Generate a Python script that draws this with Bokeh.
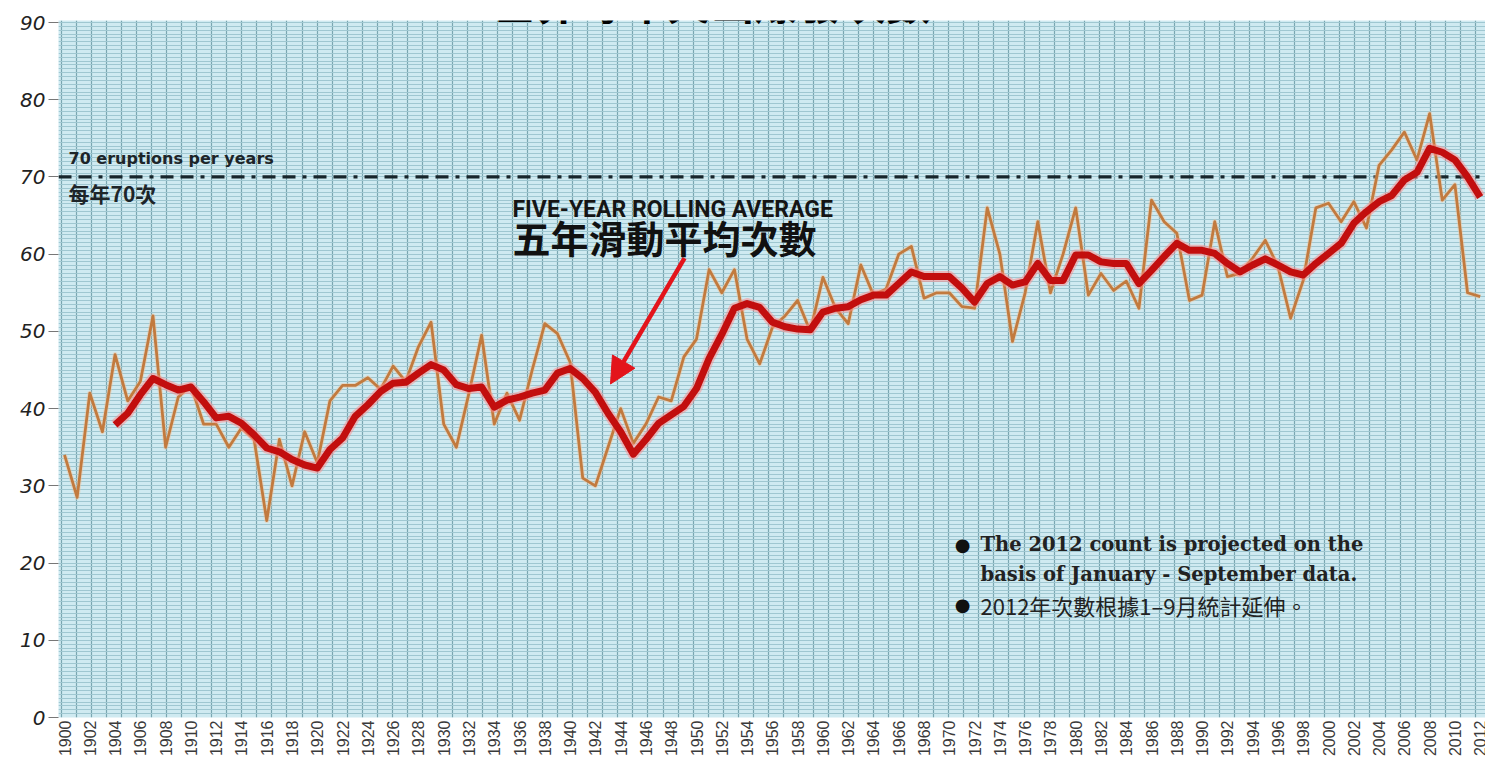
from math import pi
from bokeh.plotting import figure
from bokeh.models import (Range1d, FixedTicker, SingleIntervalTicker, Span, Label,
                          Arrow, NormalHead)
from bokeh.embed import file_html
from bokeh.resources import INLINE

# ---------------- data ----------------
years = list(range(1900, 2013))
eruptions = [
    34, 28.5, 42, 37, 47, 41, 43.5, 52, 35, 41.5,          # 1900-1909
    43, 38, 38, 35, 37.5, 36, 25.5, 36, 30, 37,            # 1910-1919
    33, 41, 43, 43, 44, 42.5, 45.5, 43.5, 48, 51.2,        # 1920-1929
    38, 35, 42, 49.5, 38, 42, 38.5, 45, 51, 49.7,          # 1930-1939
    46, 31, 30, 35, 40, 35.5, 38, 41.5, 41, 46.7,          # 1940-1949
    49, 58, 55, 58, 49, 45.8, 50.5, 52, 54, 50,            # 1950-1959
    57, 53, 51, 58.6, 54.7, 55.5, 60, 61, 54.3, 55,        # 1960-1969
    55, 53.2, 53, 66, 60, 48.7, 55, 64.2, 55, 60,          # 1970-1979
    66, 54.7, 57.5, 55.3, 56.5, 53, 67, 64.2, 62.7, 54,    # 1980-1989
    54.7, 64.2, 57.1, 57.5, 59.5, 61.8, 58.4, 51.7, 56.6, 66,  # 1990-1999
    66.6, 64.2, 66.8, 63.4, 71.5, 73.5, 75.8, 72.2, 78.2, 67,  # 2000-2009
    69, 55, 54.5,                                          # 2010-2012
]
avg_years = list(range(1904, 2013))
rolling_avg = [
    37.9, 39.4, 41.8, 43.9, 43.1, 42.4,                    # 1904-1909
    42.8, 40.9, 38.8, 39.0, 38.1, 36.6, 34.9, 34.4, 33.4, 32.7,  # 1910-1919
    32.3, 34.7, 36.2, 39.0, 40.5, 42.2, 43.3, 43.4, 44.6, 45.7,  # 1920-1929
    45.0, 43.1, 42.6, 42.8, 40.2, 41.1, 41.5, 42.0, 42.4, 44.6,  # 1930-1939
    45.2, 43.9, 42.1, 39.4, 37.0, 34.1, 36.0, 38.1, 39.2, 40.3,  # 1940-1949
    42.6, 46.5, 49.6, 53.0, 53.6, 53.1, 51.2, 50.6, 50.3, 50.2,  # 1950-1959
    52.5, 53.0, 53.2, 54.1, 54.7, 54.7, 56.2, 57.7, 57.1, 57.1,  # 1960-1969
    57.1, 55.6, 53.8, 56.2, 57.1, 56.0, 56.4, 58.8, 56.6, 56.6,  # 1970-1979
    59.9, 59.9, 59.0, 58.8, 58.8, 56.2, 57.9, 59.7, 61.4, 60.5,  # 1980-1989
    60.5, 60.1, 58.8, 57.7, 58.6, 59.4, 58.6, 57.7, 57.3, 58.8,  # 1990-1999
    60.1, 61.4, 64.0, 65.5, 66.8, 67.6, 69.6, 70.6, 73.7, 73.2,  # 2000-2009
    72.2, 70.0, 67.4,                                            # 2010-2012
]
x_tick_years = list(range(1900, 2013, 2))
y_ticks = [0, 10, 20, 30, 40, 50, 60, 70, 80, 90]
threshold = 70

title_text = "世界每年火山爆發次數"
credit_text = "Chong-Yi In Lin,"
credit_italic = "Global sum"
threshold_en = "70 eruptions per years"
threshold_zh = "每年70次"
avg_en = "FIVE-YEAR ROLLING AVERAGE"
avg_zh = "五年滑動平均次數"
note_en1 = "The 2012 count is projected  on the"
note_en2 = "basis of January - September data."
note_zh = "2012年次數根據1–9月統計延伸。"

# ---------------- figure ----------------
X0, X1 = 1899.525, 2012.42
Y0, Y1 = 0, 90.26
FL, FR, FT, FB = 58, 1485, 20, 718   # frame edges in page pixels

p = figure(width=1485, height=759, x_range=Range1d(X0, X1), y_range=Range1d(Y0, Y1),
           output_backend="svg", toolbar_location=None, title=None,
           min_border_left=FL, min_border_right=0, min_border_top=FT, min_border_bottom=759 - FB,
           background_fill_color="#cfeaf1", border_fill_color="white",
           outline_line_color=None)

# helpers: annotation positions given in page pixels -> data units
def px2x(px):
    return X0 + (px - FL) * (X1 - X0) / (FR - FL)

def py2y(py):
    return Y0 + (FB - py) * (Y1 - Y0) / (FB - FT)

# grid: graph-paper look
p.xgrid.ticker = FixedTicker(ticks=[1899.75 + 1.19 * i for i in range(97)])
p.xgrid.grid_line_color = "#7aa6b1"
p.xgrid.grid_line_width = 1.2
p.ygrid.ticker = SingleIntervalTicker(interval=0.5)
p.ygrid.grid_line_color = "#9fc7d1"
p.ygrid.grid_line_width = 1

# axes
p.xaxis.ticker = FixedTicker(ticks=x_tick_years)
p.xaxis.major_label_orientation = pi / 2
p.xaxis.axis_line_color = None
p.xaxis.major_tick_line_color = None
p.xaxis.major_tick_out = 0
p.xaxis.major_tick_in = 0
p.xaxis.minor_tick_line_color = None
p.xaxis.minor_tick_out = 0
p.xaxis.major_label_standoff = 3
p.xaxis.major_label_text_font = "Liberation Sans"
p.xaxis.major_label_text_font_size = "16px"
p.xaxis.major_label_text_color = "#3a3a3a"

p.yaxis.ticker = FixedTicker(ticks=y_ticks)
p.yaxis.axis_line_color = None
p.yaxis.major_tick_out = 10
p.yaxis.major_tick_in = 0
p.yaxis.major_tick_line_color = "#777777"
p.yaxis.minor_tick_line_color = None
p.yaxis.major_label_standoff = 3
p.yaxis.major_label_text_font = "DejaVu Sans"
p.yaxis.major_label_text_font_style = "italic"
p.yaxis.major_label_text_font_size = "20px"
p.yaxis.major_label_text_color = "#222222"

# 70 per year reference line
p.add_layout(Span(location=threshold, dimension="width", line_color="#17252b",
                  line_width=3.2, line_dash="13 7 13 7 4 7", level="underlay"))

# data lines
p.line(years, eruptions, line_color="#f2c49a", line_width=5, line_alpha=0.45, line_join="round")
p.line(years, eruptions, line_color="#c27a3e", line_width=2.8, line_join="round")
p.line(avg_years, rolling_avg, line_color="#ff8a8a", line_width=11, line_alpha=0.5, line_join="round")
p.line(avg_years, rolling_avg, line_color="#c20e0e", line_width=7, line_join="round")

# arrow
p.add_layout(Arrow(end=NormalHead(size=26, fill_color="#e3141b", line_color="#e3141b"),
                   x_start=px2x(684), y_start=py2y(258), x_end=px2x(610), y_end=py2y(384),
                   line_color="#e3141b", line_width=4.5))

def lab(text, px, py, font, size, style="normal", color="#1a1a1a", align="left", baseline="middle"):
    p.add_layout(Label(x=px2x(px), y=py2y(py), text=text, text_font=font,
                       text_font_size=size, text_font_style=style, text_color=color,
                       text_align=align, text_baseline=baseline))

lab(threshold_en, 68, 158, "DejaVu Sans", "16px", "bold", "#1d2529")
lab(threshold_zh, 68, 193, "Noto Sans CJK TC", "21px", "bold", "#1d2529")
lab(avg_en, 512, 209, "Roboto", "23px", "bold", "#151515")
lab(avg_zh, 512, 236, "Noto Sans CJK TC", "38px", "bold", "#111111")

lab("●", 962, 545, "DejaVu Sans", "18px", "normal", "#111111", align="center")
lab(note_en1, 980, 545, "DejaVu Serif", "19.5px", "bold", "#222222")
lab(note_en2, 980, 575, "DejaVu Serif", "19.5px", "bold", "#222222")
lab("●", 962, 605, "DejaVu Sans", "18px", "normal", "#111111", align="center")
lab(note_zh, 980, 605, "Noto Sans CJK TC", "22px", "normal", "#222222")

# title and credit, cut off at the top edge as in the source image
lab(title_text, 710, 0.5, "Noto Sans CJK TC", "44px", "bold", "#000000", align="center")
lab(credit_text, 1350, 0.5, "Liberation Sans", "23px", "normal", "#555555", align="right")
lab(credit_italic, 1357, 0.5, "Liberation Serif", "23px", "italic", "#555555", align="left")

open("out.html", "w").write(file_html(p, INLINE))
